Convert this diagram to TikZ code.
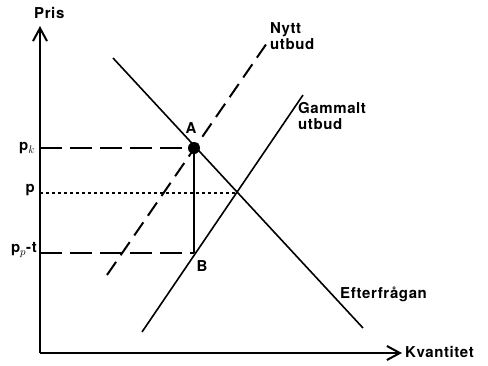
\documentclass[tikz,border=0pt]{standalone}
\usepackage{fontspec}
\setmainfont{TeX Gyre Heros}
\usetikzlibrary{arrows.meta}
\begin{document}
\begin{tikzpicture}[x=1pt,y=-1pt,
  axis/.style={line width=2.4pt,-{Straight Barb[length=13pt,width=14pt,line width=2pt]}},
  curve/.style={line width=1.6pt},
  longdash/.style={line width=2pt,dash pattern=on 22pt off 8pt},
  supdash/.style={line width=2pt,dash pattern=on 16pt off 8pt},
  dotline/.style={line width=1.8pt,dash pattern=on 3pt off 3pt},
  lbl/.style={font=\fontsize{15}{16}\selectfont\bfseries\addfontfeature{LetterSpace=4},inner sep=0pt},
]
\useasboundingbox (0,0) rectangle (488,365);
% axes
\coordinate (O) at (40,353);
\coordinate (Ytop) at (40,26);
\coordinate (Xend) at (402,353);
\draw[axis] (O) -- (Ytop);
\draw[axis] (O) -- (Xend);
\node[lbl,anchor=west] (pris) at (34,13) {Pris};
\node[lbl,anchor=west] (kv) at (405,352) {Kvantitet};
% points
\coordinate (A) at (194,148);
\coordinate (B) at (194,253);
\coordinate (E) at (236,193);
\coordinate (Ypk) at (40,148);
\coordinate (Yp) at (40,193);
\coordinate (Ypt) at (40,253);
% demand
\coordinate (D1) at (113,58);
\coordinate (D2) at (363,328);
\draw[curve] (D1) -- (D2);
% old supply
\coordinate (S1) at (142,332);
\coordinate (S2) at (303,95);
\draw[curve] (S1) -- (S2);
% new supply
\coordinate (N1) at (107,275);
\coordinate (N2) at (267,43);
\draw[supdash] (N1) -- (N2);
% price lines
\draw[longdash] (Ypk) -- (A);
\draw[dotline] (Yp) -- (E);
\draw[longdash] (Ypt) -- (B);
\draw[curve] (A) -- (B);
\fill (A) circle (6pt);
% labels
\node[lbl] (la) at (191,128) {A};
\node[lbl] (lb) at (202,266) {B};
\node[lbl,anchor=east] (lpk) at (35,148) {p$_k$};
\node[lbl,anchor=east] (lp) at (35,190) {p};
\node[lbl,anchor=east] (lpt) at (37,250) {p$_p$-t};
\node[lbl,anchor=north west,align=left] (ny) at (270,22) {Nytt\\utbud};
\node[lbl,anchor=north west,align=left] (ga) at (298,102) {Gammalt\\utbud};
\node[lbl,anchor=west] (ef) at (340,294) {Efterfrågan};
\end{tikzpicture}
\end{document}
